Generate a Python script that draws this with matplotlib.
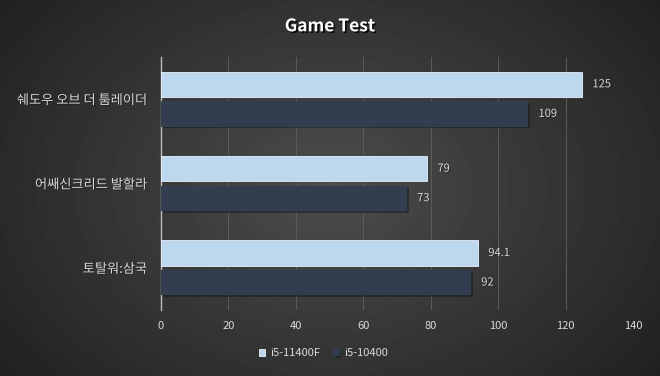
import numpy as np
import matplotlib.pyplot as plt
import matplotlib.patheffects as pe

plt.rcParams['font.family'] = ['Noto Sans CJK KR', 'DejaVu Sans']

games = ['쉐도우 오브 더 툼레이더', '어쌔신크리드 발할라', '토탈워:삼국']
i5_11400f = [125, 79, 94.1]
i5_10400 = [109, 73, 92]
series_names = ['i5-11400F', 'i5-10400']
x_ticks = [0, 20, 40, 60, 80, 100, 120, 140]

light = '#bdd7ee'
dark = '#323e4f'
text_color = '#d9d9d9'

fig = plt.figure(figsize=(6.6, 3.76), dpi=100)

# radial gradient background, lighter in the middle
bg = fig.add_axes([0, 0, 1, 1], zorder=-10)
yy, xx = np.mgrid[-1:1:376j, -1:1:660j]
r = np.sqrt((xx * 0.9) ** 2 + (yy * 0.7) ** 2)
shade = np.clip(0.30 - 0.15 * r, 0.11, 0.32)
bg.imshow(shade, cmap='gray', vmin=0, vmax=1, aspect='auto', extent=[0, 1, 0, 1])
bg.axis('off')

ax = fig.add_axes([0.244, 0.1755, 0.715, 0.673])
ax.set_facecolor('none')

pos = np.arange(len(games))
h = 0.3
shadow = [pe.SimplePatchShadow(offset=(1.2, -1.2), alpha=0.45), pe.Normal()]
b1 = ax.barh(pos - 0.175, i5_11400f, height=h, color=light, edgecolor='#e8f1fa',
             linewidth=0.6, label=series_names[0], zorder=3)
b2 = ax.barh(pos + 0.175, i5_10400, height=h, color=dark, label=series_names[1], zorder=3)
for bar in list(b1) + list(b2):
    bar.set_path_effects(shadow)

txt_fx = [pe.withSimplePatchShadow(offset=(0.6, -0.6), shadow_rgbFace='black', alpha=0.4)]
for p, v in zip(pos, i5_11400f):
    ax.text(v + 3, p - 0.175, f'{v:g}', va='center', ha='left', color=text_color,
            fontsize=8, path_effects=txt_fx)
for p, v in zip(pos, i5_10400):
    ax.text(v + 3, p + 0.175, f'{v:g}', va='center', ha='left', color=text_color,
            fontsize=8, path_effects=txt_fx)

ax.set_xlim(0, 140)
ax.set_ylim(2.5, -0.5)
ax.set_xticks(x_ticks)
ax.set_yticks(pos)
ax.set_yticklabels(games, fontsize=9.5, color=text_color, fontweight='medium')
for t in ax.get_yticklabels():
    t.set_path_effects(txt_fx)
ax.tick_params(axis='x', colors=text_color, labelsize=8, length=0, pad=8)
ax.tick_params(axis='y', length=0, pad=10)
ax.grid(axis='x', color='#5c5c5c', linewidth=0.7, zorder=0)
for s in ['top', 'right', 'bottom']:
    ax.spines[s].set_visible(False)
ax.spines['left'].set_color('#bfbfbf')
ax.spines['left'].set_linewidth(1)

fig.text(0.5, 0.93, 'Game Test', ha='center', va='center', fontsize=12.5,
         fontweight='bold', color='white',
         path_effects=[pe.withSimplePatchShadow(offset=(1.2, -1.2), shadow_rgbFace='black', alpha=0.8)])

leg = fig.legend(handles=[b1, b2], labels=series_names, loc='center', bbox_to_anchor=(0.49, 0.06),
                 ncol=2, frameon=False, fontsize=8, handlelength=0.6, handleheight=0.6,
                 handletextpad=0.4, columnspacing=1.2, labelcolor=text_color)

fig.savefig('out.png', dpi=100)
